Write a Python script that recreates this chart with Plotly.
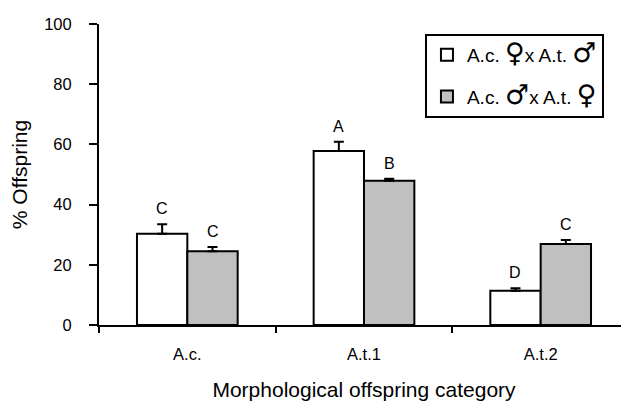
import plotly.graph_objects as go

categories = ["A.c.", "A.t.1", "A.t.2"]
sym_f = '<span style="font-family:DejaVu Sans;font-size:27px">\u2640</span>'
sym_m = '<span style="font-family:DejaVu Sans;font-size:27px">\u2642</span>'
series_names = [f"A.c. {sym_f}x A.t. {sym_m}", f"A.c. {sym_m}x A.t. {sym_f}"]
values_1 = [30.3, 57.8, 11.4]
errors_1 = [3.2, 3.1, 0.8]
letters_1 = ["C", "A", "D"]
values_2 = [24.5, 47.9, 26.9]
errors_2 = [1.4, 0.7, 1.3]
letters_2 = ["C", "B", "C"]
colors = ["#ffffff", "#c0c0c0"]

FONT = "Liberation Sans, Arial, DejaVu Sans, sans-serif"

fig = go.Figure()
for i, (name, vals, errs) in enumerate([(series_names[0], values_1, errors_1),
                                         (series_names[1], values_2, errors_2)]):
    fig.add_trace(go.Bar(
        x=categories, y=vals, name=name, legendgroup=f"g{i}",
        marker=dict(color=colors[i], line=dict(color="black", width=2)),
        error_y=dict(type="data", array=errs, arrayminus=[0]*len(errs), symmetric=False,
                     color="black", thickness=2, width=5),
    ))

# letter annotations above error bars
offsets = [-0.145, 0.145]
for s, (vals, errs, lets) in enumerate([(values_1, errors_1, letters_1),
                                        (values_2, errors_2, letters_2)]):
    for j, cat in enumerate(categories):
        fig.add_annotation(x=j + offsets[s], y=vals[j] + errs[j], text=lets[j],
                           xref="x", yref="y", showarrow=False, yanchor="bottom",
                           yshift=5, font=dict(size=16, color="black", family=FONT))

# page body has an 8px margin; figure sized/offset to compensate
fig.update_layout(
    width=621, height=393,
    margin=dict(l=91, r=0, t=16, b=76),
    paper_bgcolor="white", plot_bgcolor="white",
    barmode="group", bargap=0.43, bargroupgap=0,
    font=dict(family=FONT, color="black", size=16),
    legend=dict(x=0.615, y=0.967, xanchor="left", yanchor="top",
                bordercolor="black", borderwidth=2, bgcolor="white",
                font=dict(size=19, family=FONT), tracegroupgap=14,
                traceorder="grouped", itemwidth=30),
    xaxis=dict(type="category", range=[-0.5, 2.5], showline=True, linecolor="black",
               linewidth=2, ticks="outside", ticklen=6, tickwidth=2, tickcolor="black",
               tickson="boundaries", showgrid=False, automargin=False,
               ticklabelstandoff=13,
               title=dict(text="Morphological offspring category", font=dict(size=21), standoff=24),
               tickfont=dict(size=16.5)),
    yaxis=dict(range=[0, 100], tickvals=[0, 20, 40, 60, 80, 100], showline=True,
               linecolor="black", linewidth=2, ticks="outside", ticklen=8, tickwidth=2,
               tickcolor="black", showgrid=False, zeroline=False, automargin=False,
               ticklabelstandoff=14,
               title=dict(text="% Offspring", font=dict(size=21), standoff=12),
               tickfont=dict(size=16.5)),
)

fig.write_html("out.html")
